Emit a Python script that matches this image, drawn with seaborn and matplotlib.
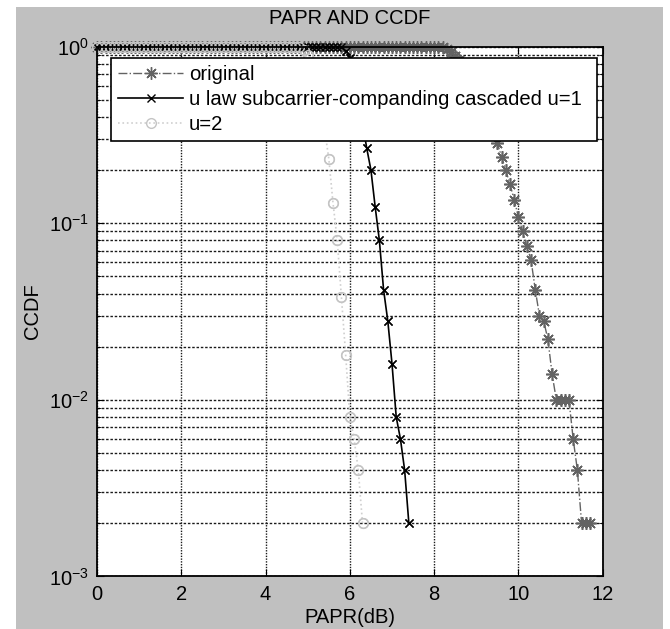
import numpy as np
import pandas as pd
import matplotlib
matplotlib.use("Agg")
import matplotlib.pyplot as plt
from matplotlib.patches import Rectangle
from matplotlib.ticker import LogLocator, MultipleLocator, NullFormatter
import seaborn as sns

# PAPR thresholds (dB), CCDF evaluated every 0.1 dB
papr_db = np.round(np.arange(0, 12.0, 0.1), 1)

# CCDF values (1.0 = flat top part)
ccdf_original = [1.0] * 83 + [
    0.97, 0.93, 0.89, 0.84, 0.78, 0.72, 0.65, 0.58, 0.51, 0.44, 0.38, 0.33,
    0.284, 0.238, 0.2, 0.166, 0.136, 0.108, 0.09, 0.074, 0.062, 0.042, 0.030,
    0.028, 0.022, 0.014, 0.010, 0.010, 0.010, 0.010, 0.006, 0.004, 0.002,
    0.002, 0.002]
ccdf_u1 = [1.0] * 58 + [
    0.99, 0.95, 0.86, 0.70, 0.52, 0.37,
    0.266, 0.2, 0.124, 0.08, 0.042, 0.028, 0.016, 0.008, 0.006, 0.004, 0.002]
ccdf_u2 = [1.0] * 48 + [
    0.99, 0.96, 0.90, 0.79, 0.64, 0.48, 0.34,
    0.232, 0.13, 0.08, 0.038, 0.018, 0.008, 0.006, 0.004, 0.002]

labels = ["original", "u law subcarrier-companding cascaded u=1", "u=2"]

plt.rcParams["font.family"] = ["Liberation Sans", "DejaVu Sans"]
plt.rcParams["mathtext.fontset"] = "custom"
plt.rcParams["mathtext.rm"] = "Liberation Sans"

fig = plt.figure(figsize=(6.7, 6.29), dpi=100, facecolor="white")
# grey figure background (MATLAB window)
fig.add_artist(Rectangle((16 / 670, 0), 647 / 670, 622 / 629,
                         transform=fig.transFigure, facecolor="#c0c0c0",
                         edgecolor="none", zorder=-10))
ax = fig.add_axes([0.1449, 0.0835, 0.7546, 0.8424])
ax.set_facecolor("white")

df_o = pd.DataFrame({"PAPR": papr_db[:len(ccdf_original)], "CCDF": ccdf_original})
df_1 = pd.DataFrame({"PAPR": papr_db[:len(ccdf_u1)], "CCDF": ccdf_u1})
df_2 = pd.DataFrame({"PAPR": papr_db[:len(ccdf_u2)], "CCDF": ccdf_u2})

styles = [
    dict(color="#636363", linestyle="-.", linewidth=1.0, marker=(8, 2, 0),
         markersize=9, markeredgewidth=1.0, markeredgecolor="#636363"),
    dict(color="black", linestyle="-", linewidth=1.2, marker="x",
         markersize=6, markeredgewidth=1.0, markeredgecolor="black"),
    dict(color="#cfcfcf", linestyle=":", linewidth=1.2, marker="o",
         markersize=7, markerfacecolor="none", markeredgewidth=1.0,
         markeredgecolor="#c4c4c4"),
]
frames = [df_o, df_1, df_2]

# lines clipped at the axes box (like MATLAB), labelled for the legend
for d, st, lab in zip(frames, styles, labels):
    sns.lineplot(data=d, x="PAPR", y="CCDF", ax=ax, label=lab, **st)
# markers not clipped, so the ones sitting on CCDF = 1 show fully
for d, st in zip(frames, styles):
    st2 = dict(st, linestyle="none")
    sns.lineplot(data=d, x="PAPR", y="CCDF", ax=ax, clip_on=False,
                 legend=False, label="_nolegend_", **st2)

ax.set_yscale("log")
ax.set_xlim(0, 12)
ax.set_ylim(1e-3, 1e0)
ax.xaxis.set_major_locator(MultipleLocator(2))
ax.yaxis.set_major_locator(LogLocator(base=10))
ax.yaxis.set_minor_locator(LogLocator(base=10, subs=np.arange(2, 10)))
ax.yaxis.set_minor_formatter(NullFormatter())

ax.grid(True, which="both", axis="y", color="#1a1a1a", linewidth=1.0,
        linestyle=(0, (1.8, 1.3)))
ax.grid(True, which="major", axis="x", color="#1a1a1a", linewidth=1.0,
        linestyle=(0, (1.0, 1.0)))
ax.set_axisbelow(True)

ax.tick_params(which="both", direction="in", top=True, right=True,
               labelsize=14.5, color="black")
ax.tick_params(which="major", length=5, pad=6)
ax.tick_params(which="minor", length=3)
for s in ax.spines.values():
    s.set_linewidth(1.3)
    s.set_color("black")

ax.set_title("PAPR AND CCDF", fontsize=14.5, pad=16)
ax.set_xlabel("PAPR(dB)", fontsize=14.5, labelpad=3)
ax.set_ylabel("CCDF", fontsize=14.5, labelpad=5)

leg = ax.legend(loc="upper left", bbox_to_anchor=(0.0275, 0.818, 0.9615, 0.1605),
                mode="expand", borderaxespad=0, fontsize=14.6, fancybox=False,
                edgecolor="black", framealpha=1, handlelength=3.2,
                handletextpad=0.3, labelspacing=0.3, borderpad=0.35)
leg.get_frame().set_linewidth(1.2)
leg.set_zorder(10)

fig.savefig("out.png", dpi=100, facecolor=fig.get_facecolor())
